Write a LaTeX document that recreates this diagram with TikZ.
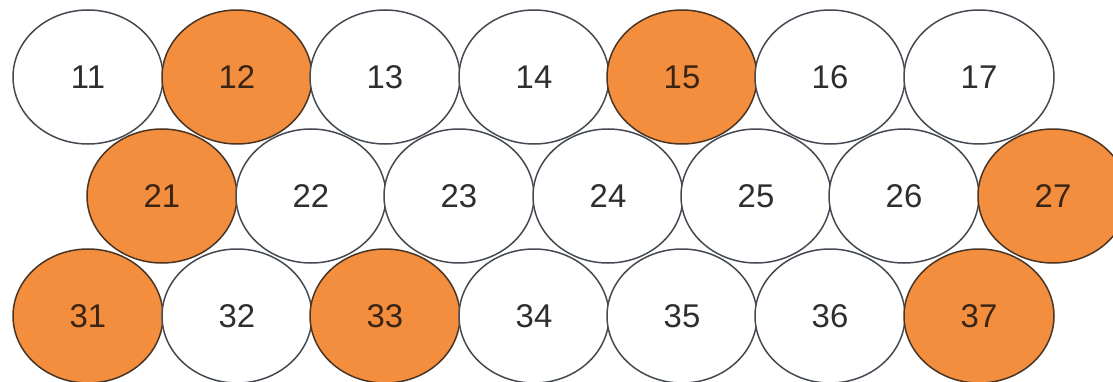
\documentclass[tikz,border=0pt]{standalone}
\usepackage{fontspec}
\setmainfont{Liberation Sans}
\usepackage{xcolor}
\usepackage{tikz}
\usetikzlibrary{
    positioning,
    shapes.geometric
}

\begin{document}
\begin{tikzpicture}[x=1bp,y=1bp,
        cell/.style={ellipse,draw=linecolor,line width=1.5bp,fill=white,
            minimum width=150bp,minimum height=134bp,inner sep=0pt,
            text=textcolor,font=\fontsize{33}{38}\selectfont},
        hot/.style={cell,fill=hotcolor,draw=hotline,text=hottext}]
            \definecolor{linecolor}{HTML}{454A52}
            \definecolor{hotline}{HTML}{4A3424}
            \definecolor{hotcolor}{HTML}{F28E3E}
            \definecolor{textcolor}{HTML}{2E2E2E}
            \definecolor{hottext}{HTML}{3A2414}
            \useasboundingbox (0,0) rectangle (1113,381);
            \clip (0,0) rectangle (1113,381);
            % top row
            \node[cell] (c11) at (88,304) {11};
            \node[hot]  (c12) at (237,304) {12};
            \node[cell] (c13) at (385,304) {13};
            \node[cell] (c14) at (534,304) {14};
            \node[hot]  (c15) at (682,304) {15};
            \node[cell] (c16) at (830,304) {16};
            \node[cell] (c17) at (979,304) {17};
            % middle row
            \node[hot]  (c21) at (162,185) {21};
            \node[cell] (c22) at (311,185) {22};
            \node[cell] (c23) at (459,185) {23};
            \node[cell] (c24) at (608,185) {24};
            \node[cell] (c25) at (756,185) {25};
            \node[cell] (c26) at (904,185) {26};
            \node[hot]  (c27) at (1053,185) {27};
            % bottom row
            \node[hot]  (c31) at (88,65) {31};
            \node[cell] (c32) at (237,65) {32};
            \node[hot]  (c33) at (385,65) {33};
            \node[cell] (c34) at (534,65) {34};
            \node[cell] (c35) at (682,65) {35};
            \node[cell] (c36) at (830,65) {36};
            \node[hot]  (c37) at (979,65) {37};
        \end{tikzpicture}
\end{document}
